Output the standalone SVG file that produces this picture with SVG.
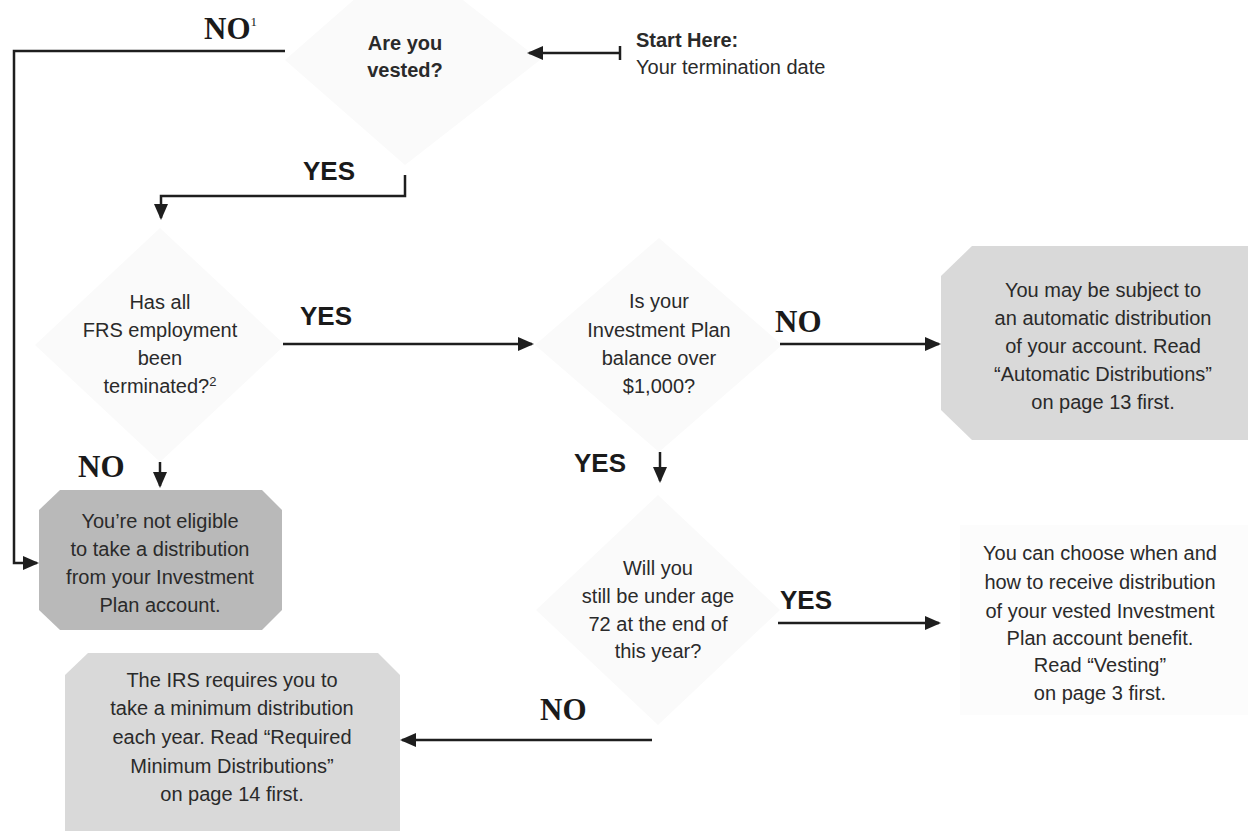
<svg xmlns="http://www.w3.org/2000/svg" width="1248" height="831" viewBox="0 0 1248 831">
<defs>
<style>
.t{font-family:"Liberation Sans",Arial,sans-serif;font-size:20px;fill:#2a2a2a;text-anchor:middle}
.q{font-family:"Liberation Sans",Arial,sans-serif;font-size:20px;fill:#2a2a2a;text-anchor:middle;font-weight:bold}
.yes{font-family:"Liberation Sans",Arial,sans-serif;font-size:26px;font-weight:bold;fill:#1a1a1a}
.no{font-family:"Liberation Serif","Times New Roman",serif;font-size:31px;font-weight:bold;fill:#1a1a1a}
.ln{fill:none;stroke:#1e1e1e;stroke-width:2.5}
.dia{fill:#fafafa;stroke:none}
</style>
<marker id="ah" viewBox="0 0 16 14" refX="14" refY="7" markerWidth="16" markerHeight="14" markerUnits="userSpaceOnUse" orient="auto">
<path d="M0,0 L16,7 L0,14 z" fill="#1e1e1e"/>
</marker>
</defs>
<rect width="1248" height="831" fill="#ffffff"/>

<g id="q-vested">
<polygon class="dia" points="405,-45 540,60 405,165 285,60"/>
<text class="q" x="405" y="50">Are you</text>
<text class="q" x="405" y="77">vested?</text>
</g>

<g id="start">
<text x="636" y="47" style="font-family:'Liberation Sans',Arial,sans-serif;font-size:20px;font-weight:bold;fill:#2a2a2a">Start Here:</text>
<text x="636" y="74" style="font-family:'Liberation Sans',Arial,sans-serif;font-size:20px;fill:#2a2a2a">Your termination date</text>
</g>

<g id="q-terminated">
<polygon class="dia" points="160,228 285,345 160,462 35,345"/>
<text class="t" x="160" y="309">Has all</text>
<text class="t" x="160" y="337">FRS employment</text>
<text class="t" x="160" y="365">been</text>
<text class="t" x="160" y="393">terminated?<tspan font-size="13" dy="-7">2</tspan></text>
</g>

<g id="q-balance">
<polygon class="dia" points="659,238 782,345 659,452 535,345"/>
<text class="t" x="659" y="308">Is your</text>
<text class="t" x="659" y="337">Investment Plan</text>
<text class="t" x="659" y="365">balance over</text>
<text class="t" x="659" y="393">$1,000?</text>
</g>

<g id="auto-dist">
<polygon points="972,246 1248,246 1248,440 972,440 941,410 941,276" fill="#d9d9d9"/>
<text class="t" x="1103" y="297">You may be subject to</text>
<text class="t" x="1103" y="325">an automatic distribution</text>
<text class="t" x="1103" y="353">of your account. Read</text>
<text class="t" x="1103" y="381">“Automatic Distributions”</text>
<text class="t" x="1103" y="409">on page 13 first.</text>
</g>

<g id="not-eligible">
<polygon points="60,490 262,490 282,510 282,610 262,630 60,630 39,610 39,510" fill="#b9b9b9"/>
<text class="t" x="160" y="528">You’re not eligible</text>
<text class="t" x="160" y="556">to take a distribution</text>
<text class="t" x="160" y="584">from your Investment</text>
<text class="t" x="160" y="612">Plan account.</text>
</g>

<g id="q-age">
<polygon class="dia" points="658,495 780,610 658,725 536,610"/>
<text class="t" x="658" y="575">Will you</text>
<text class="t" x="658" y="603">still be under age</text>
<text class="t" x="658" y="631">72 at the end of</text>
<text class="t" x="658" y="658">this year?</text>
</g>

<g id="choose">
<rect x="960" y="525" width="288" height="190" fill="#fcfcfc"/>
<text class="t" x="1100" y="560">You can choose when and</text>
<text class="t" x="1100" y="589">how to receive distribution</text>
<text class="t" x="1100" y="618">of your vested Investment</text>
<text class="t" x="1100" y="645">Plan account benefit.</text>
<text class="t" x="1100" y="672">Read “Vesting”</text>
<text class="t" x="1100" y="700">on page 3 first.</text>
</g>

<g id="rmd">
<polygon points="88,653 378,653 400,675 400,831 65,831 65,675" fill="#d9d9d9"/>
<text class="t" x="232" y="687">The IRS requires you to</text>
<text class="t" x="232" y="715">take a minimum distribution</text>
<text class="t" x="232" y="744">each year. Read “Required</text>
<text class="t" x="232" y="773">Minimum Distributions”</text>
<text class="t" x="232" y="801">on page 14 first.</text>
</g>

<g id="connectors">
<path class="ln" d="M285,51 H14 V563 H37" marker-end="url(#ah)"/>
<path class="ln" d="M405,175 V196 H161 V218" marker-end="url(#ah)"/>
<path class="ln" d="M620,53 H529" marker-end="url(#ah)"/>
<path class="ln" d="M620,46 V60"/>
<path class="ln" d="M283,344 H532" marker-end="url(#ah)"/>
<path class="ln" d="M780,344 H939" marker-end="url(#ah)"/>
<path class="ln" d="M160,462 V486" marker-end="url(#ah)"/>
<path class="ln" d="M660,452 V481" marker-end="url(#ah)"/>
<path class="ln" d="M778,623 H939" marker-end="url(#ah)"/>
<path class="ln" d="M652,740 H402" marker-end="url(#ah)"/>
</g>

<g id="labels">
<text class="no" x="204" y="39">NO<tspan font-size="13" font-weight="normal" dy="-13">1</tspan></text>
<text class="yes" x="303" y="180">YES</text>
<text class="yes" x="300" y="325">YES</text>
<text class="no" x="775" y="332">NO</text>
<text class="no" x="78" y="477">NO</text>
<text class="yes" x="574" y="472">YES</text>
<text class="yes" x="780" y="609">YES</text>
<text class="no" x="540" y="720">NO</text>
</g>
</svg>
